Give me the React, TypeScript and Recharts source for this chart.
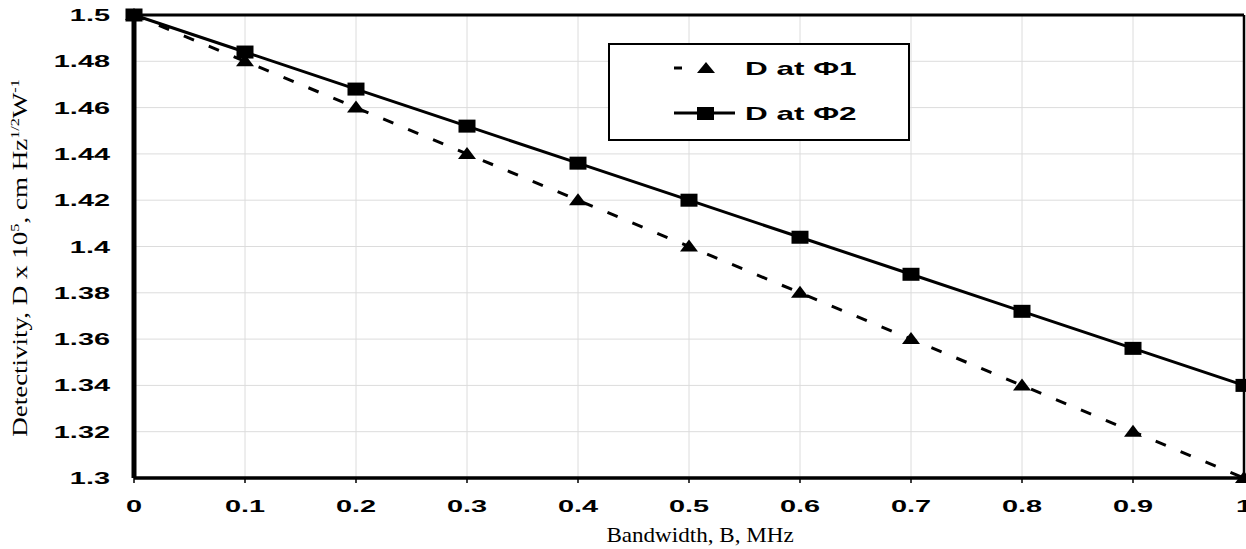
import React from 'react';
import { LineChart, Line, XAxis, YAxis, CartesianGrid, ReferenceLine, Legend } from 'recharts';

const bandwidth = [0, 0.1, 0.2, 0.3, 0.4, 0.5, 0.6, 0.7, 0.8, 0.9, 1];
const dPhi1 = [1.5, 1.48, 1.46, 1.44, 1.42, 1.4, 1.38, 1.36, 1.34, 1.32, 1.3];
const dPhi2 = [1.5, 1.484, 1.468, 1.452, 1.436, 1.42, 1.404, 1.388, 1.372, 1.356, 1.34];

const xTicks = [0, 0.1, 0.2, 0.3, 0.4, 0.5, 0.6, 0.7, 0.8, 0.9, 1];
const yTicks = [1.3, 1.32, 1.34, 1.36, 1.38, 1.4, 1.42, 1.44, 1.46, 1.48, 1.5];
const seriesNames = ['D at Φ1', 'D at Φ2'];

// minor tick marks: 5 per major interval
const xMinor = Array.from({ length: 51 }, (_, i) => i * 0.02);
const yMinor = Array.from({ length: 51 }, (_, i) => 1.3 + i * 0.004);

const data = bandwidth.map((b, i) => ({ b, d1: dPhi1[i], d2: dPhi2[i] }));

const fmt = (v: number) => String(parseFloat(v.toFixed(3)));
const tickFont = { fontFamily: 'Liberation Sans, Arial, sans-serif', fontWeight: 700, fontSize: 17, fill: '#000' };

const XTick = (props: any) => {
  const { x, y, payload } = props;
  return (
    <text transform={`translate(${x},${y + 27}) scale(1.7,1)`} textAnchor="middle" style={tickFont}>
      {fmt(payload.value)}
    </text>
  );
};

const YTick = (props: any) => {
  const { x, y, payload } = props;
  return (
    <text transform={`translate(${x},${y + 6}) scale(1.7,1)`} textAnchor="end" style={tickFont}>
      {fmt(payload.value)}
    </text>
  );
};

const Triangle = (props: any) => {
  const { cx, cy } = props;
  if (cx == null || cy == null) return null;
  return <polygon points={`${cx},${cy - 7} ${cx + 9},${cy + 5} ${cx - 9},${cy + 5}`} fill="#000" />;
};

const Square = (props: any) => {
  const { cx, cy } = props;
  if (cx == null || cy == null) return null;
  return <rect x={cx - 8.5} y={cy - 6.5} width={17} height={13} fill="#000" />;
};

const serif = { fontFamily: 'Liberation Serif, Times New Roman, serif', fontSize: 20, fill: '#000' };

const YLabel = () => (
  <text transform="translate(27,258) rotate(-90) scale(1.35,1)" textAnchor="middle" style={serif}>
    Detectivity, D x 10<tspan dy={-8} fontSize={12}>5</tspan>
    <tspan dy={8}>, cm Hz</tspan>
    <tspan dy={-8} fontSize={12}>1/2</tspan>
    <tspan dy={8}>W</tspan>
    <tspan dy={-8} fontSize={12}>-1</tspan>
  </text>
);

const XLabel = () => (
  <text transform="translate(700,542) scale(1.1,1)" textAnchor="middle" style={{ ...serif, fontSize: 21 }}>
    Bandwidth, B, MHz
  </text>
);

const legendText = { fontFamily: 'Liberation Sans, Arial, sans-serif', fontWeight: 700, fontSize: 18, fill: '#000' };

const LegendBox = () => (
  <svg width={302} height={98} style={{ display: 'block' }}>
    <rect x={1} y={1} width={300} height={96} fill="#fff" stroke="#000" strokeWidth={2} />
    <line x1={66} y1={25} x2={74} y2={25} stroke="#000" strokeWidth={3} />
    <polygon points="98,19 107,30 89,30" fill="#000" />
    <text transform="translate(137,32) scale(1.75,1)" style={legendText}>{seriesNames[0]}</text>
    <line x1={66} y1={70} x2={127} y2={70} stroke="#000" strokeWidth={3} />
    <rect x={89} y={64} width={17} height={13} fill="#000" />
    <text transform="translate(137,77) scale(1.75,1)" style={legendText}>{seriesNames[1]}</text>
  </svg>
);

export default function App() {
  return (
    <div style={{ position: 'absolute', left: 0, top: 0, width: 1246, height: 549, background: '#fff' }}>
      <LineChart width={1246} height={549} data={data} margin={{ top: 15, right: 2, left: 0, bottom: 0 }}>
        <CartesianGrid stroke="#dcdcdc" strokeWidth={1} />
        <XAxis
          dataKey="b"
          type="number"
          domain={[0, 1]}
          ticks={xTicks}
          interval={0}
          height={71}
          tickSize={5}
          tickLine={{ stroke: '#000', strokeWidth: 1.5 }}
          axisLine={{ stroke: '#000', strokeWidth: 3.5 }}
          tick={<XTick />}
        />
        <XAxis
          xAxisId="minor"
          type="number"
          domain={[0, 1]}
          ticks={xMinor}
          interval={0}
          mirror
          height={0}
          tickSize={6}
          tickLine={{ stroke: '#000', strokeWidth: 1.2 }}
          axisLine={false}
          tick={false}
        />
        <YAxis
          type="number"
          domain={[1.3, 1.5]}
          ticks={yTicks}
          interval={0}
          width={134}
          tickSize={0}
          tickMargin={24}
          tickLine={false}
          axisLine={{ stroke: '#000', strokeWidth: 5 }}
          tick={<YTick />}
        />
        <YAxis
          yAxisId="minor"
          type="number"
          domain={[1.3, 1.5]}
          ticks={yMinor}
          interval={0}
          mirror
          width={0}
          tickSize={6}
          tickLine={{ stroke: '#000', strokeWidth: 1.2 }}
          axisLine={false}
          tick={false}
        />
        <ReferenceLine y={1.5} stroke="#000" strokeWidth={3} />
        <ReferenceLine x={1} stroke="#000" strokeWidth={2.5} />
        <Line
          dataKey="d1"
          name={seriesNames[0]}
          stroke="#000"
          strokeWidth={3}
          strokeDasharray="11 16"
          dot={<Triangle />}
          activeDot={false}
          isAnimationActive={false}
        />
        <Line
          dataKey="d2"
          name={seriesNames[1]}
          stroke="#000"
          strokeWidth={3}
          dot={<Square />}
          activeDot={false}
          isAnimationActive={false}
        />
        <Legend
          layout="vertical"
          align="center"
          verticalAlign="middle"
          wrapperStyle={{ position: 'absolute', left: 608, top: 43, width: 302, height: 98 }}
          content={<LegendBox />}
        />
        <YLabel />
        <XLabel />
      </LineChart>
    </div>
  );
}
